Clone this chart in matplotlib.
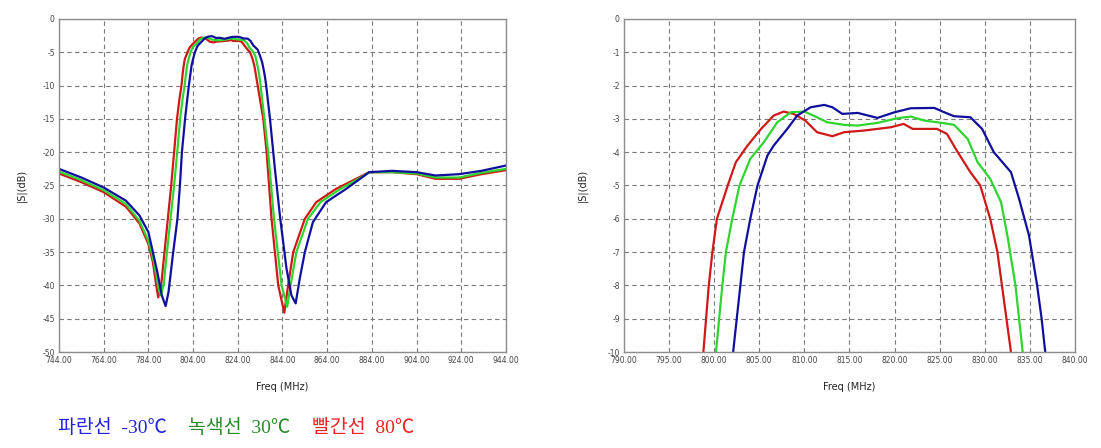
import numpy as np
import matplotlib.pyplot as plt

# measured |S| curves (MHz, dB) for the three temperatures
blue_f = [744, 754, 764, 774, 780, 784, 788, 790, 791.7, 793,
          795.1, 797, 798.1, 799, 800.4, 801.4, 802.1, 802.5, 803.3, 804.0,
          804.8, 805.9, 806.6, 808.1, 809.2, 810.7, 812.2, 813.1, 814.2, 815.9,
          818.1, 820.0, 821.8, 824.4, 825.5, 826.6, 828.4, 829.7, 831.0, 832.9,
          833.8, 834.9, 835.8, 836.3, 836.7, 838.4, 840.6, 843.0, 845.8, 848.0,
          849.9, 851.7, 854.0, 857.6, 863.5, 872.5, 882.8, 893, 904, 912.5,
          923, 933, 944]
blue_db = [-22.5, -23.8, -25.3, -27.3, -29.5, -32.0, -38.0, -41.5, -43.1, -41.0,
           -35.0, -30.0, -25.0, -20.0, -15.0, -12.0, -10.0, -9.0, -7.0, -6.0,
           -5.0, -4.1, -3.8, -3.3, -2.9, -2.65, -2.58, -2.65, -2.85, -2.82,
           -2.97, -2.8, -2.68, -2.67, -2.8, -2.92, -2.95, -3.3, -4.0, -4.6,
           -5.4, -6.5, -8.0, -9.0, -10.0, -15.0, -22.5, -30.0, -37.5, -41.5,
           -42.7, -39.0, -35.0, -30.5, -27.5, -25.5, -23.0, -22.8, -23.0, -23.5,
           -23.3, -22.8, -22.0]

green_f = [744, 754, 764, 774, 780, 784, 786.5, 788.3, 789.5, 790.8,
           792.3, 793.9, 795.5, 796.9, 798.2, 799.3, 800.2, 800.9, 801.3, 802.0,
           802.8, 804.0, 805.5, 807.0, 808.5, 810.0, 811.4, 812.5, 814.4, 815.9,
           818.1, 820.3, 821.8, 823.3, 825.5, 826.6, 828.1, 829.2, 830.6, 831.8,
           832.5, 833.4, 833.8, 834.2, 835.9, 837.6, 840.2, 843.6, 846.1, 847.6,
           850.2, 855.4, 861, 870, 879, 883, 893, 904, 912.5, 923,
           933, 944]
green_db = [-22.9, -24.2, -25.7, -27.8, -30.3, -33.3, -36.5, -40.0, -41.5, -40.0,
            -35.0, -30.0, -25.0, -20.0, -15.0, -12.0, -10.0, -8.0, -7.0, -6.0,
            -5.0, -4.2, -3.7, -3.1, -2.8, -2.78, -2.95, -3.1, -3.18, -3.2,
            -3.12, -2.98, -2.93, -3.05, -3.13, -3.18, -3.6, -4.3, -4.8, -5.5,
            -6.5, -8.0, -9.0, -10.0, -15.0, -20.0, -30.0, -40.0, -43.2, -40.0,
            -35.0, -30.0, -27.5, -25.5, -23.8, -23.0, -23.0, -23.2, -23.8, -23.8,
            -23.1, -22.5]

red_f = [744, 754, 764, 774, 780, 784, 786, 787.5, 788.4, 789.7,
         791.2, 792.7, 794.2, 795.5, 796.8, 797.9, 798.8, 799.4, 799.8, 800.3,
         801.5, 802.4, 803.7, 805.2, 806.6, 807.7, 808.8, 810.1, 811.4, 813.1,
         814.4, 816.6, 819.6, 821.0, 822.0, 824.7, 825.8, 827.0, 828.4, 829.5,
         830.6, 831.4, 831.9, 832.4, 832.9, 835.4, 836.9, 839.1, 842.1, 844.8,
         846.5, 848.8, 854.0, 859.1, 868, 876.9, 882.8, 893, 904, 912.5,
         923, 933, 944]
red_db = [-23.2, -24.5, -26.0, -28.2, -30.7, -33.8, -36.5, -40.0, -41.8, -40.0,
          -35.0, -30.0, -25.0, -20.0, -15.0, -12.0, -10.0, -8.0, -7.0, -6.0,
          -5.0, -4.3, -3.8, -3.3, -2.9, -2.78, -2.85, -3.05, -3.4, -3.52,
          -3.4, -3.35, -3.25, -3.15, -3.3, -3.3, -3.45, -4.0, -4.6, -5.0,
          -6.0, -7.0, -8.0, -9.0, -10.0, -15.0, -20.0, -30.0, -40.0, -44.1,
          -40.0, -35.0, -30.0, -27.5, -25.5, -24.0, -23.0, -23.0, -23.3, -24.0,
          -24.0, -23.3, -22.7]

wide_xticks = np.arange(744, 945, 20)
wide_yticks = np.arange(-50, 1, 5)
zoom_xticks = np.arange(790, 841, 5)
zoom_yticks = np.arange(-10, 1, 1)

captions = ['파란선  -30℃', '녹색선  30℃', '빨간선  80℃']
caption_colors = ['#2424e0', '#2a8a2a', '#ee2222']

traces = [(red_f, red_db, '#d01818'),
          (green_f, green_db, '#2fd52f'),
          (blue_f, blue_db, '#10109c')]

fig = plt.figure(figsize=(11.01, 4.48), dpi=100)
ax1 = fig.add_axes([59 / 1101, 1 - 352 / 448, 447 / 1101, 333 / 448])
ax2 = fig.add_axes([624 / 1101, 1 - 352 / 448, 451 / 1101, 333 / 448])


def style(ax, xt, yt, fmt_x):
    ax.set_xlim(xt[0], xt[-1])
    ax.set_ylim(yt[0], yt[-1])
    ax.set_xticks(xt)
    ax.set_xticklabels([fmt_x.format(v) for v in xt])
    ax.set_yticks(yt)
    ax.set_yticklabels([str(int(v)) for v in yt])
    ax.tick_params(length=0, labelsize=5.5, labelcolor='#444444', pad=3)
    ax.grid(True, linestyle=(0, (4, 3)), color='#7a7a7a', linewidth=0.8)
    for s in ax.spines.values():
        s.set_color('#8c8c8c')
        s.set_linewidth(1.0)
    ax.set_xlabel('Freq (MHz)', fontsize=7, color='#222222')
    ax.set_ylabel('|S|(dB)', fontsize=7, color='#222222')
    ax.xaxis.set_label_coords(0.5, -0.09)


style(ax1, wide_xticks, wide_yticks, '{:.2f}')
style(ax2, zoom_xticks, zoom_yticks, '{:.2f}')
ax1.yaxis.set_label_coords(-0.072, 0.5)
ax2.yaxis.set_label_coords(-0.08, 0.5)

for f, db, c in traces:
    ax1.plot(f, db, color=c, linewidth=1.6)
    ax2.plot(f, db, color=c, linewidth=1.6)

fam = ['Liberation Serif', 'Noto Sans CJK KR']
for txt, c, xp in zip(captions, caption_colors, [58, 188, 312]):
    fig.text(xp / 1101, 1 - 428 / 448, txt, color=c, fontsize=14,
             family=fam, va='center', ha='left')

fig.savefig('out.png', dpi=100)
